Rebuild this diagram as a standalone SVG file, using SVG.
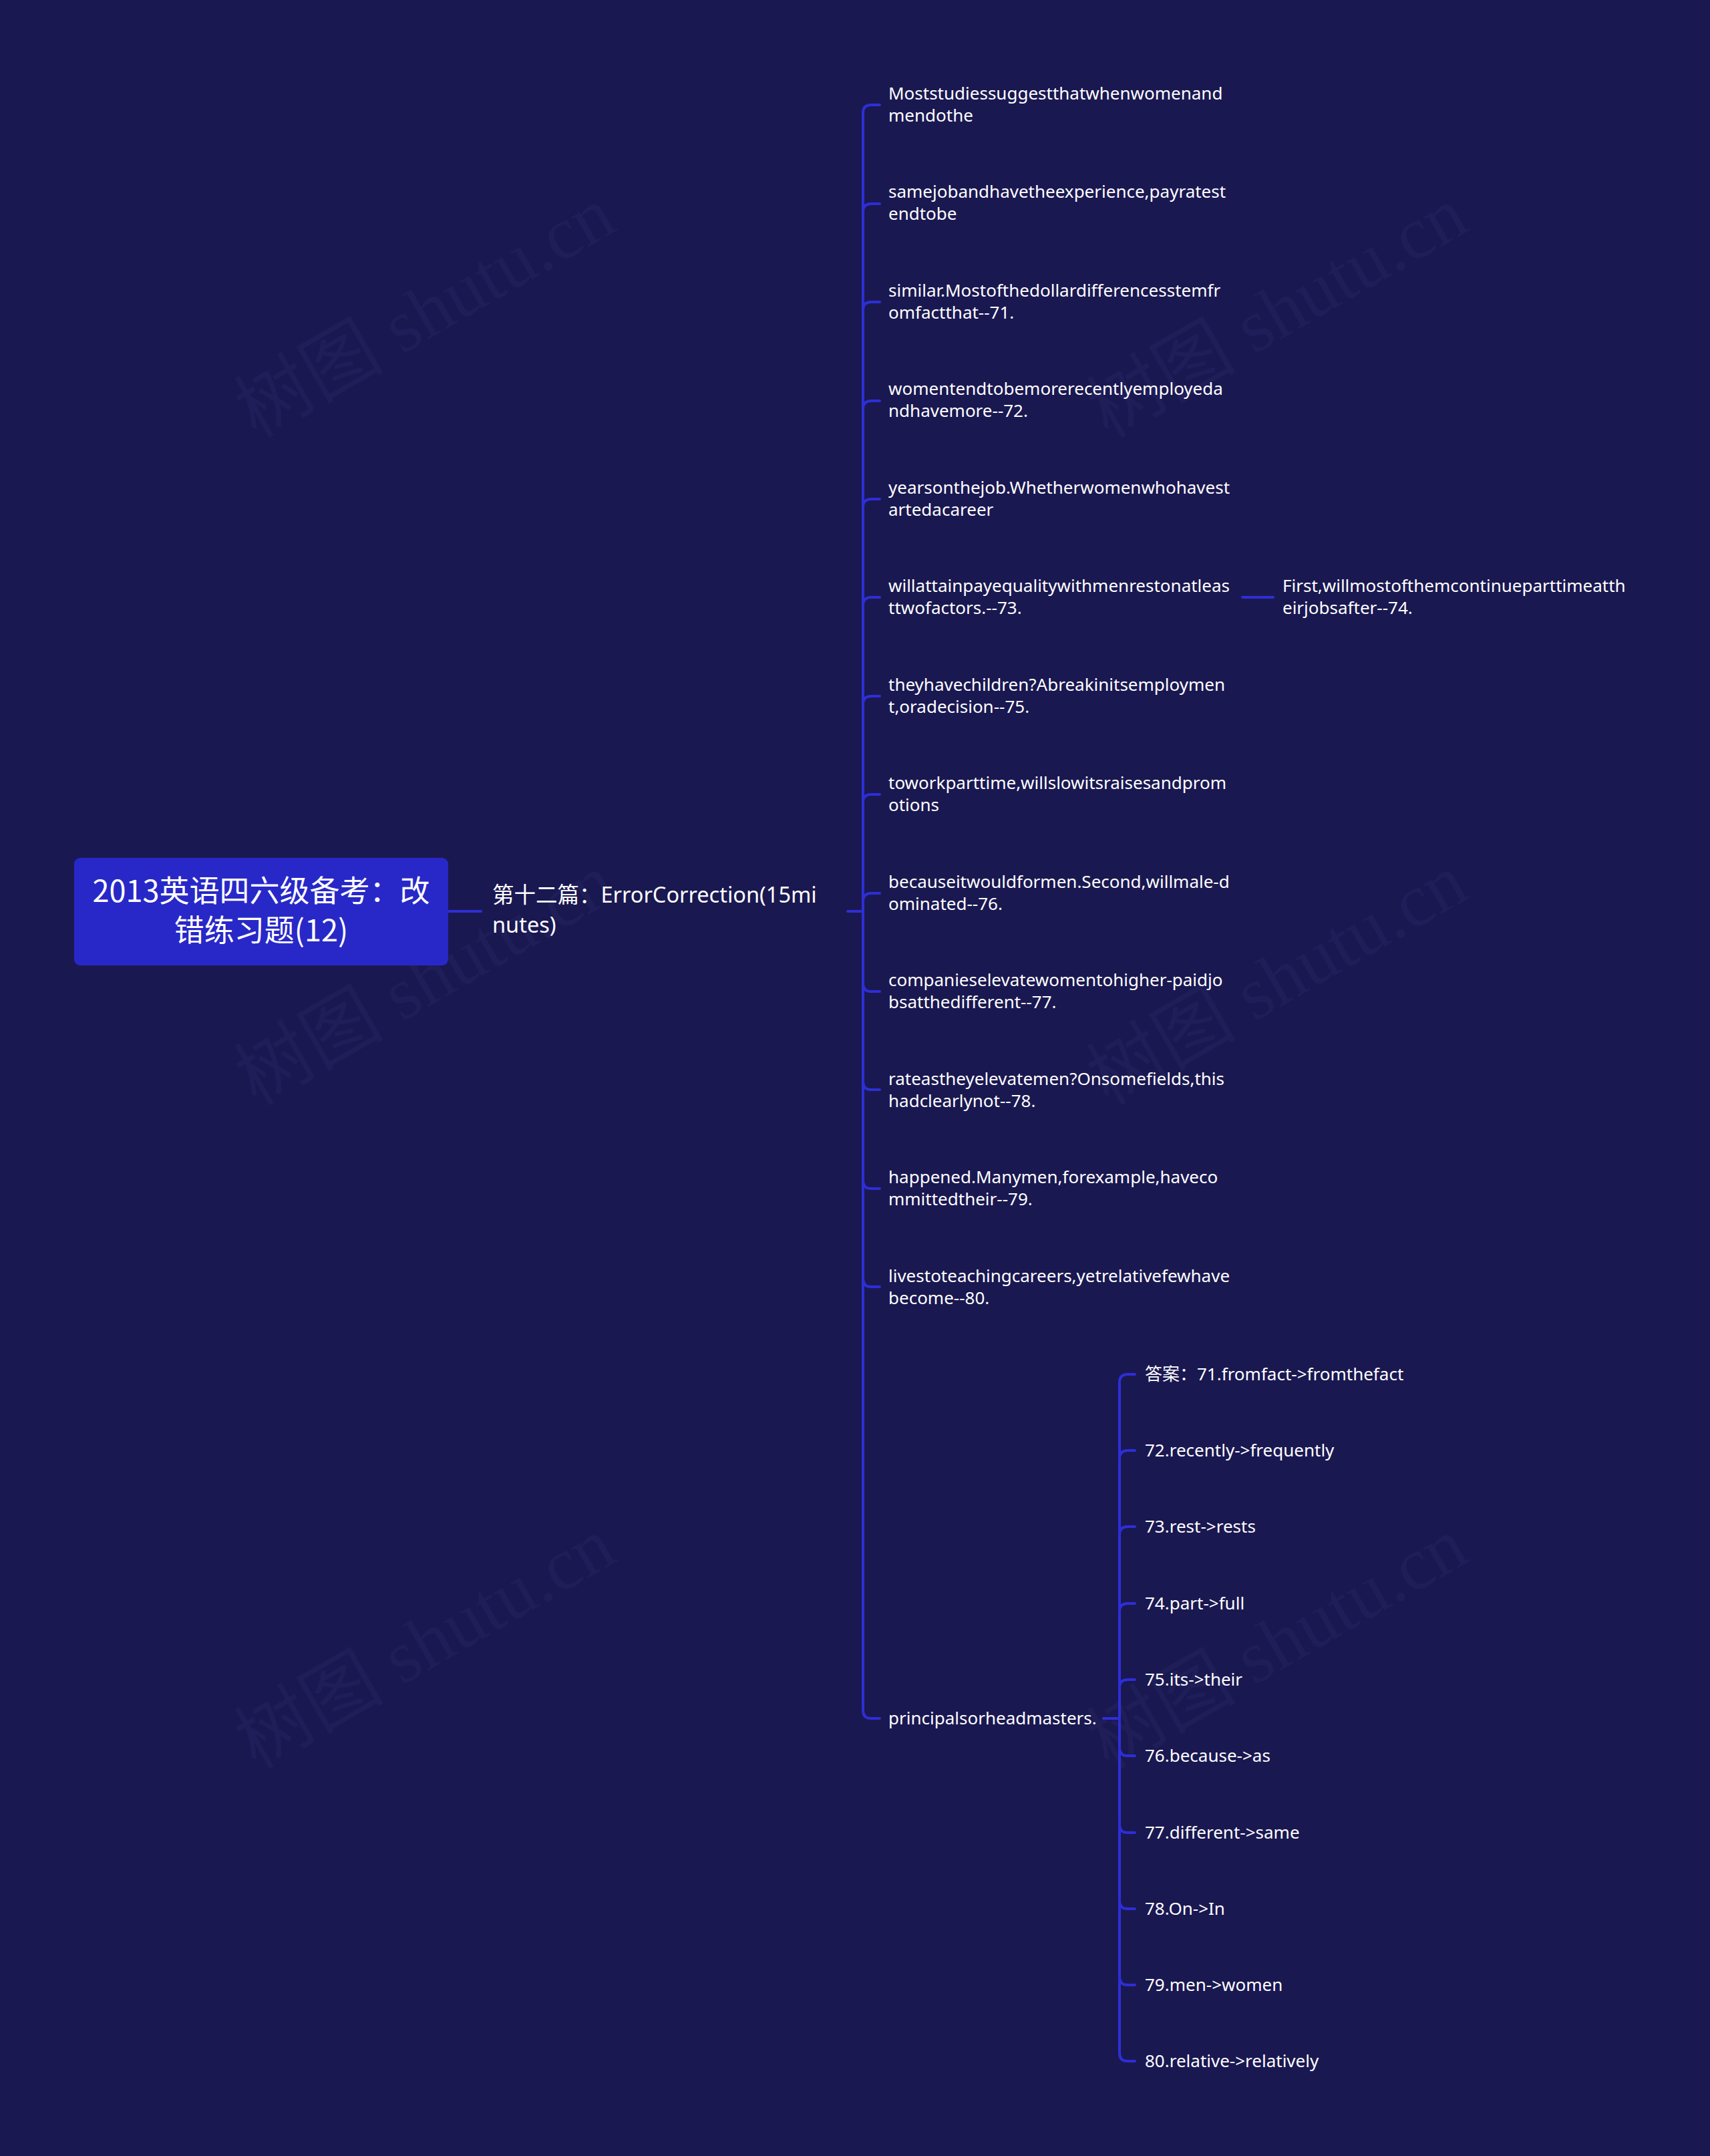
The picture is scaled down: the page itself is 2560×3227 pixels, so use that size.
<svg xmlns="http://www.w3.org/2000/svg" width="2560" height="3227" viewBox="0 0 2560 3227">
<style>
.bg{fill:#1a1851}
.wm{font-family:"Liberation Serif","Noto Sans CJK SC",serif;font-size:112px;fill:#23225e;opacity:0.6}
.root{fill:#2828c8}
.rt{font-family:"Noto Sans CJK SC","Noto Sans",sans-serif;font-size:45px;fill:#ffffff;text-anchor:middle}
.l1{font-family:"Noto Sans","Noto Sans CJK SC",sans-serif;font-size:32.5px;fill:#ffffff}
.lf{font-family:"Noto Sans","Noto Sans CJK SC",sans-serif;font-size:26px;fill:#ffffff}
.cn{fill:none;stroke:#2e2ed6;stroke-width:4;stroke-linecap:round}
</style>
<rect class="bg" x="0" y="0" width="2560" height="3227"/>
<g id="watermarks">
<text class="wm" transform="translate(655,500) rotate(-30)" text-anchor="middle">树图 shutu.cn</text>
<text class="wm" transform="translate(1931,500) rotate(-30)" text-anchor="middle">树图 shutu.cn</text>
<text class="wm" transform="translate(655,1499) rotate(-30)" text-anchor="middle">树图 shutu.cn</text>
<text class="wm" transform="translate(1931,1499) rotate(-30)" text-anchor="middle">树图 shutu.cn</text>
<text class="wm" transform="translate(655,2492) rotate(-30)" text-anchor="middle">树图 shutu.cn</text>
<text class="wm" transform="translate(1931,2492) rotate(-30)" text-anchor="middle">树图 shutu.cn</text>
</g>
<g id="connectors">
<path class="cn" d="M671,1364 H720"/>
<path class="cn" d="M1269,1364 H1292"/>
<path class="cn" d="M1292,169 V2560"/>
<path class="cn" d="M1292,169 Q1292,157 1304,157 H1317"/>
<path class="cn" d="M1292,317 Q1292,305 1304,305 H1317"/>
<path class="cn" d="M1292,464 Q1292,452 1304,452 H1317"/>
<path class="cn" d="M1292,612 Q1292,600 1304,600 H1317"/>
<path class="cn" d="M1292,759 Q1292,747 1304,747 H1317"/>
<path class="cn" d="M1292,906 Q1292,894 1304,894 H1317"/>
<path class="cn" d="M1292,1054 Q1292,1042 1304,1042 H1317"/>
<path class="cn" d="M1292,1201 Q1292,1189 1304,1189 H1317"/>
<path class="cn" d="M1292,1349 Q1292,1337 1304,1337 H1317"/>
<path class="cn" d="M1292,1472 Q1292,1484 1304,1484 H1317"/>
<path class="cn" d="M1292,1619 Q1292,1631 1304,1631 H1317"/>
<path class="cn" d="M1292,1767 Q1292,1779 1304,1779 H1317"/>
<path class="cn" d="M1292,1914 Q1292,1926 1304,1926 H1317"/>
<path class="cn" d="M1292,2560 Q1292,2572 1304,2572 H1317"/>
<path class="cn" d="M1860,894 H1906"/>
<path class="cn" d="M1652,2572 H1676"/>
<path class="cn" d="M1676,2069 V3073"/>
<path class="cn" d="M1676,2069 Q1676,2057 1688,2057 H1699"/>
<path class="cn" d="M1676,2183 Q1676,2171 1688,2171 H1699"/>
<path class="cn" d="M1676,2297 Q1676,2285 1688,2285 H1699"/>
<path class="cn" d="M1676,2412 Q1676,2400 1688,2400 H1699"/>
<path class="cn" d="M1676,2526 Q1676,2514 1688,2514 H1699"/>
<path class="cn" d="M1676,2616 Q1676,2628 1688,2628 H1699"/>
<path class="cn" d="M1676,2731 Q1676,2743 1688,2743 H1699"/>
<path class="cn" d="M1676,2845 Q1676,2857 1688,2857 H1699"/>
<path class="cn" d="M1676,2959 Q1676,2971 1688,2971 H1699"/>
<path class="cn" d="M1676,3073 Q1676,3085 1688,3085 H1699"/>
</g>
<g id="root">
<rect class="root" x="111" y="1284" width="560" height="161" rx="9"/>
<text class="rt" x="391" y="1350">2013英语四六级备考：改</text>
<text class="rt" x="391" y="1409">错练习题(12)</text>
</g>
<g id="section">
<text class="l1" x="737" y="1351">第十二篇：ErrorCorrection(15mi</text>
<text class="l1" x="737" y="1396">nutes)</text>
</g>
<g id="leaf0"><text class="lf" x="1330" y="149">Moststudiessuggestthatwhenwomenand</text><text class="lf" x="1330" y="182">mendothe</text></g>
<g id="leaf1"><text class="lf" x="1330" y="296">samejobandhavetheexperience,payratest</text><text class="lf" x="1330" y="329">endtobe</text></g>
<g id="leaf2"><text class="lf" x="1330" y="444">similar.Mostofthedollardifferencesstemfr</text><text class="lf" x="1330" y="477">omfactthat--71.</text></g>
<g id="leaf3"><text class="lf" x="1330" y="591">womentendtobemorerecentlyemployeda</text><text class="lf" x="1330" y="624">ndhavemore--72.</text></g>
<g id="leaf4"><text class="lf" x="1330" y="739">yearsonthejob.Whetherwomenwhohavest</text><text class="lf" x="1330" y="772">artedacareer</text></g>
<g id="leaf5"><text class="lf" x="1330" y="886">willattainpayequalitywithmenrestonatleas</text><text class="lf" x="1330" y="919">ttwofactors.--73.</text></g>
<g id="leaf5a"><text class="lf" x="1920" y="886">First,willmostofthemcontinueparttimeatth</text><text class="lf" x="1920" y="919">eirjobsafter--74.</text></g>
<g id="leaf6"><text class="lf" x="1330" y="1034">theyhavechildren?Abreakinitsemploymen</text><text class="lf" x="1330" y="1067">t,oradecision--75.</text></g>
<g id="leaf7"><text class="lf" x="1330" y="1181">toworkparttime,willslowitsraisesandprom</text><text class="lf" x="1330" y="1214">otions</text></g>
<g id="leaf8"><text class="lf" x="1330" y="1329">becauseitwouldformen.Second,willmale-d</text><text class="lf" x="1330" y="1362">ominated--76.</text></g>
<g id="leaf9"><text class="lf" x="1330" y="1476">companieselevatewomentohigher-paidjo</text><text class="lf" x="1330" y="1509">bsatthedifferent--77.</text></g>
<g id="leaf10"><text class="lf" x="1330" y="1624">rateastheyelevatemen?Onsomefields,this</text><text class="lf" x="1330" y="1657">hadclearlynot--78.</text></g>
<g id="leaf11"><text class="lf" x="1330" y="1771">happened.Manymen,forexample,haveco</text><text class="lf" x="1330" y="1804">mmittedtheir--79.</text></g>
<g id="leaf12"><text class="lf" x="1330" y="1919">livestoteachingcareers,yetrelativefewhave</text><text class="lf" x="1330" y="1952">become--80.</text></g>
<g id="leaf13"><text class="lf" x="1330" y="2581">principalsorheadmasters.</text></g>
<g id="ans0"><text class="lf" x="1714" y="2066">答案：71.fromfact-&gt;fromthefact</text></g>
<g id="ans1"><text class="lf" x="1714" y="2180">72.recently-&gt;frequently</text></g>
<g id="ans2"><text class="lf" x="1714" y="2294">73.rest-&gt;rests</text></g>
<g id="ans3"><text class="lf" x="1714" y="2409">74.part-&gt;full</text></g>
<g id="ans4"><text class="lf" x="1714" y="2523">75.its-&gt;their</text></g>
<g id="ans5"><text class="lf" x="1714" y="2637">76.because-&gt;as</text></g>
<g id="ans6"><text class="lf" x="1714" y="2752">77.different-&gt;same</text></g>
<g id="ans7"><text class="lf" x="1714" y="2866">78.On-&gt;In</text></g>
<g id="ans8"><text class="lf" x="1714" y="2980">79.men-&gt;women</text></g>
<g id="ans9"><text class="lf" x="1714" y="3094">80.relative-&gt;relatively</text></g>
</svg>
